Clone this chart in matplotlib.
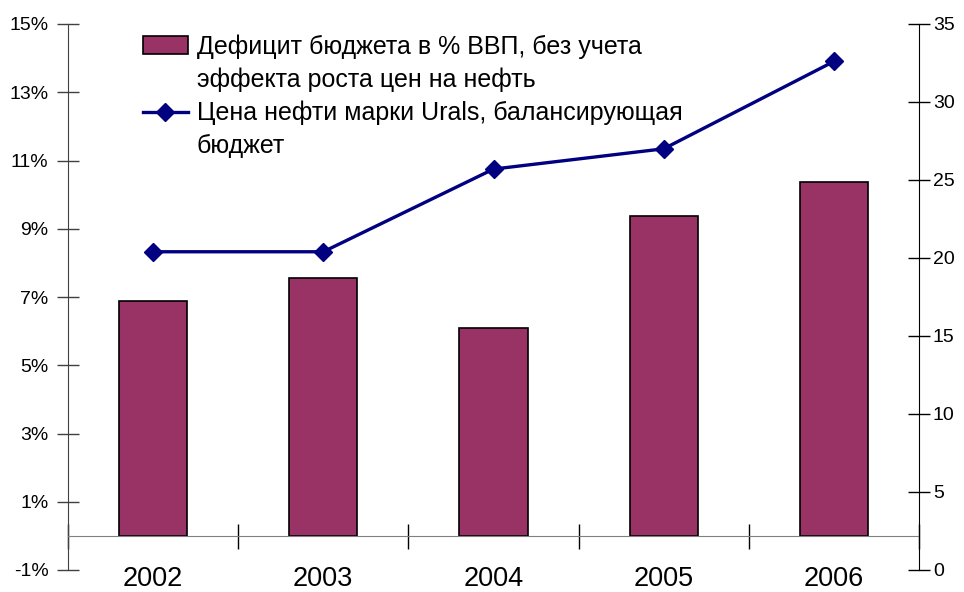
import matplotlib
matplotlib.use("Agg")
import matplotlib.pyplot as plt
from matplotlib.ticker import FixedLocator, FuncFormatter, NullFormatter
from matplotlib.patches import Rectangle
import numpy as np

years = ["2002", "2003", "2004", "2005", "2006"]
deficit = [6.87, 7.57, 6.1, 9.37, 10.36]
urals = [20.4, 20.4, 25.7, 27.0, 32.6]
label_bar = ["Дефицит бюджета в % ВВП, без учета", "эффекта роста цен на нефть"]
label_line = ["Цена нефти марки Urals, балансирующая", "бюджет"]
left_ticks = [-1, 1, 3, 5, 7, 9, 11, 13, 15]
right_ticks = [0, 5, 10, 15, 20, 25, 30, 35]

REG = ["Liberation Sans", "DejaVu Sans"]
plt.rcParams["font.family"] = REG

fig = plt.figure(figsize=(9.64, 5.92), dpi=100)
ax = fig.add_axes([68/964, 1-570/592, (919-68)/964, (570-24)/592])
ax2 = ax.twinx()

x = np.arange(len(years))
bars = ax.bar(x, deficit, width=0.4, color="#993366", edgecolor="black", linewidth=1.2, zorder=2)
line, = ax2.plot(x, urals, color="#000080", linewidth=2.4, marker="D", markersize=9, zorder=3)

ax.set_xlim(-0.5, len(years) - 0.5)
ax.set_ylim(-1, 15)
ax2.set_ylim(0, 35)

for a in (ax, ax2):
    a.spines["top"].set_visible(False)
    a.set_facecolor("none")
ax2.spines["bottom"].set_visible(False)
ax2.spines["left"].set_visible(False)
ax.spines["right"].set_visible(False)
ax.spines["bottom"].set_position(("data", 0))
ax.spines["bottom"].set_color("#808080")
ax.spines["left"].set_color("#404040")
ax2.spines["right"].set_color("black")

ax.yaxis.set_major_locator(FixedLocator(left_ticks))
ax.yaxis.set_major_formatter(FuncFormatter(lambda v, p: f"{v:.0f}%"))
ax.tick_params(axis="y", direction="inout", length=16, width=1, color="#404040", pad=6, labelsize=14)

ax2.yaxis.set_major_locator(FixedLocator(right_ticks))
ax2.tick_params(axis="y", direction="inout", length=16, width=1, pad=2, labelsize=14)

ax.xaxis.set_major_locator(FixedLocator(np.arange(len(years) + 1) - 0.5))
ax.xaxis.set_major_formatter(NullFormatter())
ax.set_xticks(x, years, minor=True)
ax.tick_params(axis="x", which="major", direction="inout", length=18, width=1, color="black")
ax.tick_params(axis="x", which="minor", length=0, pad=22, labelsize=19.5)

blank = Rectangle((0, 0), 1, 1, fill=False, edgecolor="none", visible=False)
leg = ax2.legend([bars, blank, line, blank],
                 [label_bar[0], label_bar[1], label_line[0], label_line[1]],
                 loc="upper left", bbox_to_anchor=(0.082, 0.99), frameon=False,
                 labelspacing=0.35, handlelength=1.8, handletextpad=0.35,
                 borderpad=0.2, borderaxespad=0, prop={"size": 18})

fig.savefig("out.png", dpi=100)
